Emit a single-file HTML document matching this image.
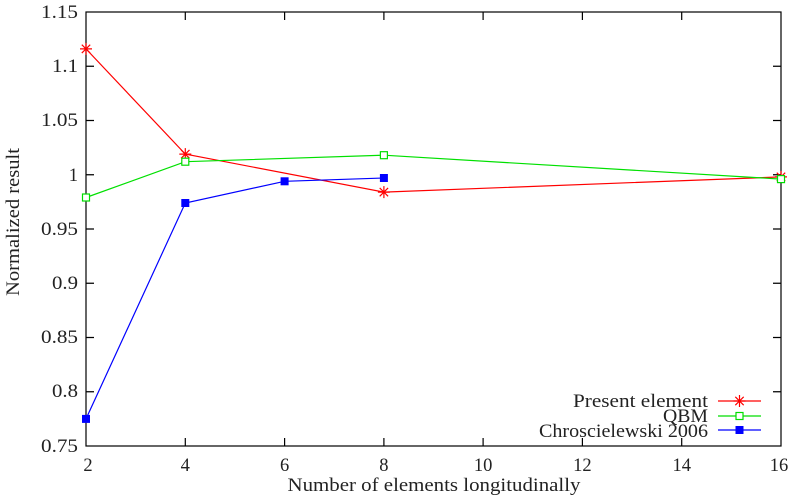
<!DOCTYPE html><html><head><style>body{margin:0;background:#fff}svg{display:block;font-family:"Liberation Serif",serif}</style></head><body>
<svg width="796" height="497" viewBox="0 0 796 497" xmlns="http://www.w3.org/2000/svg">
<g stroke="#000" stroke-width="1.2" fill="none">
<rect x="86" y="12" width="695" height="434"/>
<path d="M86 66.25h8M781 66.25h-8M86 120.5h8M781 120.5h-8M86 174.75h8M781 174.75h-8M86 229h8M781 229h-8M86 283.25h8M781 283.25h-8M86 337.5h8M781 337.5h-8M86 391.75h8M781 391.75h-8
M185.3 446v-8M185.3 12v8M284.6 446v-8M284.6 12v8M383.9 446v-8M383.9 12v8M483.1 446v-8M483.1 12v8M582.4 446v-8M582.4 12v8M681.7 446v-8M681.7 12v8"/>
</g>
<g font-size="18.5" fill="#222" text-anchor="end">
<text x="78" y="18" textLength="37" lengthAdjust="spacingAndGlyphs">1.15</text><text x="78" y="72" textLength="26" lengthAdjust="spacingAndGlyphs">1.1</text><text x="78" y="126" textLength="37" lengthAdjust="spacingAndGlyphs">1.05</text><text x="78" y="181">1</text><text x="78" y="235" textLength="37" lengthAdjust="spacingAndGlyphs">0.95</text><text x="78" y="289" textLength="26" lengthAdjust="spacingAndGlyphs">0.9</text><text x="78" y="343" textLength="37" lengthAdjust="spacingAndGlyphs">0.85</text><text x="78" y="397" textLength="26" lengthAdjust="spacingAndGlyphs">0.8</text><text x="78" y="452" textLength="37" lengthAdjust="spacingAndGlyphs">0.75</text>
</g>
<g font-size="18.5" fill="#222" text-anchor="middle">
<text x="88" y="471">2</text><text x="185.3" y="471">4</text><text x="284.6" y="471">6</text><text x="383.9" y="471">8</text><text x="483.1" y="471">10</text><text x="582.4" y="471">12</text><text x="681.7" y="471">14</text><text x="779" y="471">16</text>
<text x="434" y="491" textLength="293" lengthAdjust="spacingAndGlyphs">Number of elements longitudinally</text>
<text transform="translate(19 222) rotate(-90)" textLength="148" lengthAdjust="spacingAndGlyphs">Normalized result</text>
</g>
<g font-size="18.5" fill="#222" text-anchor="end">
<text x="708" y="407" textLength="135" lengthAdjust="spacingAndGlyphs">Present element</text><text x="708" y="422" textLength="45" lengthAdjust="spacingAndGlyphs">QBM</text><text x="708" y="437" textLength="169" lengthAdjust="spacingAndGlyphs">Chroscielewski 2006</text>
</g>
<g fill="none" stroke-width="1.2">
<polyline stroke="#f00" points="86,48.9 185.3,154.1 383.9,192.1 781,176.9"/>
<polyline stroke="#00e000" points="86,197.5 185.3,161.7 383.9,155.2 781,179.1"/>
<polyline stroke="#00f" points="86,418.9 185.3,203 284.6,181.3 383.9,178"/>
<path stroke="#f00" d="M718 401h43"/><path stroke="#0d0" d="M718 416h43"/><path stroke="#00f" d="M718 430h43"/>
</g>
<g stroke="#f00" stroke-width="1.2">
<path d="M80 48.9h12M86 42.9v12M81.8 44.7l8.4 8.4M81.8 53.1l8.4-8.4"/>
<path d="M179.3 154.1h12M185.3 148.1v12M181.1 149.9l8.4 8.4M181.1 158.3l8.4-8.4"/>
<path d="M377.9 192.1h12M383.9 186.1v12M379.7 187.9l8.4 8.4M379.7 196.3l8.4-8.4"/>
<path d="M775 176.9h12M781 170.9v12M776.8 172.7l8.4 8.4M776.8 181.1l8.4-8.4"/>
<path d="M733.5 401h12M739.5 395v12M735.3 396.8l8.4 8.4M735.3 405.2l8.4-8.4"/>
</g>
<g stroke="#0d0" stroke-width="1.2" fill="#fff">
<rect x="82.5" y="194" width="7" height="7"/><rect x="181.8" y="158.2" width="7" height="7"/><rect x="380.4" y="151.7" width="7" height="7"/><rect x="777.5" y="175.6" width="7" height="7"/><rect x="736" y="412.5" width="7" height="7"/>
</g>
<g fill="#00f">
<rect x="82" y="414.9" width="8" height="8"/><rect x="181.3" y="199" width="8" height="8"/><rect x="280.6" y="177.3" width="8" height="8"/><rect x="379.9" y="174" width="8" height="8"/><rect x="735.5" y="426" width="8" height="8"/>
</g>
</svg></body></html>
